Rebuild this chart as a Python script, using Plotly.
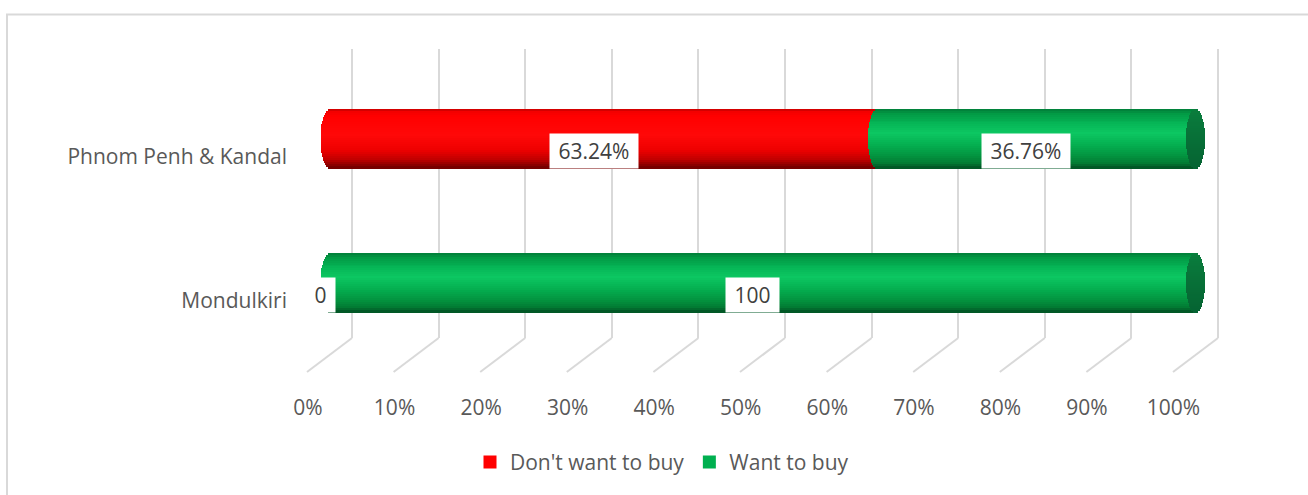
import numpy as np
import plotly.graph_objects as go

# ---- data -------------------------------------------------------------
categories = ["Mondulkiri", "Phnom Penh & Kandal"]
dont_want = [0, 63.24]
want = [100, 36.76]
label_suffix = ["", "%"]          # per-category data label suffix
tick_vals = list(range(0, 101, 10))
tick_text = [f"{v}%" for v in tick_vals]

# ---- geometry (pixels) -------------------------------------------------
FIG_W, FIG_H = 1308, 495
L, R, T, B = 300, 1240, 49, 342
PW, PH = R - L, B - T

BAR_ZERO, BAR_SCALE = 330, 8.655      # bar plane
GRID_ZERO, GRID_SCALE = 352, 8.66     # back wall
CAT_STEP = 146                        # px between categories
CAT0_PX = 286                         # pixel row of first category
BAR_PX = 60                           # cylinder thickness
CAP_PX = 9.5                          # half width of the end ellipse

x_range = [(L - BAR_ZERO) / BAR_SCALE, (R - BAR_ZERO) / BAR_SCALE]
x2_range = [(L - GRID_ZERO) / GRID_SCALE, (R - GRID_ZERO) / GRID_SCALE]
y0 = -(B - CAT0_PX) / CAT_STEP
y_range = [y0, y0 + PH / CAT_STEP]

bar_h = BAR_PX / CAT_STEP
cap_a = CAP_PX / BAR_SCALE
N_BANDS = 30
band_h = bar_h / N_BANDS

GRID_COLOR = "#d9d9d9"
FONT = "Open Sans"
NBSP = "\u00a0"


def hex_to_rgb(h):
    h = h.lstrip("#")
    return np.array([int(h[i:i + 2], 16) for i in (0, 2, 4)], dtype=float)


def ramp(stops, t):
    pos = [p for p, _ in stops]
    cols = np.array([hex_to_rgb(c) for _, c in stops])
    rgb = [np.interp(t, pos, cols[:, k]) for k in range(3)]
    return "rgb(%d,%d,%d)" % tuple(int(round(v)) for v in rgb)


series = [
    dict(name="Don't want to buy", values=dont_want, legend="#ff0000",
         body=[(0, "#c40000"), (0.05, "#f40000"), (0.12, "#ff0000"), (0.45, "#ff0808"),
               (0.7, "#ee0000"), (0.86, "#c00000"), (1.0, "#6c0000")],
         face=[(0, "#c00000"), (1, "#8a0000")]),
    dict(name="Want to buy", values=want, legend="#00b050",
         body=[(0, "#017d38"), (0.08, "#029a45"), (0.25, "#06b556"), (0.42, "#0cc762"),
               (0.6, "#05b152"), (0.8, "#03943f"), (0.92, "#027a33"), (1.0, "#014f22")],
         face=[(0, "#0a7d3d"), (1, "#056332")]),
]

fig = go.Figure()

starts = np.zeros(len(categories))
annotations = []
for s in series:
    vals = np.array(s["values"], dtype=float)
    ends = starts + vals
    for part in ("body", "face"):
        for i in range(N_BANDS):
            t = -1 + (2 * i + 1) / N_BANDS
            dx = cap_a * np.sqrt(max(0.0, 1 - t * t))
            col = ramp(s[part], (i + 0.5) / N_BANDS)
            off = bar_h / 2 - (i + 1) * band_h
            if part == "body":
                base = starts - dx
                length = ends - starts + 2 * dx
            else:
                base = ends - dx
                length = np.full_like(ends, 2 * dx)
            fig.add_trace(go.Bar(
                y=categories, x=length, base=base, orientation="h",
                offset=off - band_h * 0.25, width=band_h * 1.5,
                marker=dict(color=col, line=dict(width=0)),
                showlegend=False, hoverinfo="skip",
            ))
    for j, cat in enumerate(categories):
        annotations.append(dict(
            x=starts[j] + vals[j] / 2, y=cat, xref="x", yref="y",
            text=f"{NBSP}{vals[j]:g}{label_suffix[j]}{NBSP}", showarrow=False,
            xshift=-10, yshift=-12, bgcolor="white", borderpad=3,
            font=dict(family=FONT, size=21, color="#404040"),
        ))
    starts = ends

# legend entries
for s in series:
    fig.add_trace(go.Scatter(x=[None], y=[None], name=s["name"], xaxis="x2",
                             mode="markers",
                             marker=dict(symbol="square", size=13, color=s["legend"])))

shapes = []
# floor lines from the back wall towards the front
for v in tick_vals:
    shapes.append(dict(type="line", xref="x2", xsizemode="pixel", xanchor=v,
                       x0=0, x1=-45, yref="paper", ysizemode="pixel", yanchor=0,
                       y0=0, y1=-34, line=dict(color=GRID_COLOR, width=2), layer="below"))
# chart frame
shapes.append(dict(type="rect", xref="paper", yref="paper",
                   x0=(7 - L) / PW, x1=(1330 - L) / PW,
                   y0=(B - 520) / PH, y1=(B - 14) / PH,
                   line=dict(color=GRID_COLOR, width=2), layer="below"))

fig.update_layout(
    width=FIG_W, height=FIG_H, autosize=False,
    margin=dict(l=L, r=FIG_W - R, t=T, b=FIG_H - B, pad=0),
    paper_bgcolor="white", plot_bgcolor="white",
    barmode="overlay", bargap=0,
    font=dict(family=FONT, size=21, color="#595959"),
    xaxis=dict(range=x_range, showgrid=False, zeroline=False, showline=False,
               tickvals=tick_vals, ticktext=tick_text, ticks="",
               ticklabelshift=-22, ticklabelstandoff=55,
               tickfont=dict(family=FONT, size=21, color="#595959")),
    xaxis2=dict(range=x2_range, overlaying="x", anchor="y", showgrid=True,
                gridcolor=GRID_COLOR, gridwidth=2, zeroline=False,
                tickvals=tick_vals, showticklabels=False, ticks=""),
    yaxis=dict(range=y_range, type="category", categoryorder="array",
               categoryarray=categories, showgrid=False, zeroline=False,
               ticks="", ticklabelshift=18, ticklabelstandoff=12,
               tickfont=dict(family=FONT, size=21, color="#595959")),
    legend=dict(orientation="h", x=(662 - L) / PW, xanchor="center",
                y=(B - 468) / PH, yanchor="middle",
                font=dict(family=FONT, size=21, color="#595959"),
                bgcolor="rgba(0,0,0,0)"),
    shapes=shapes,
    annotations=annotations,
)

fig.write_html("out.html")
